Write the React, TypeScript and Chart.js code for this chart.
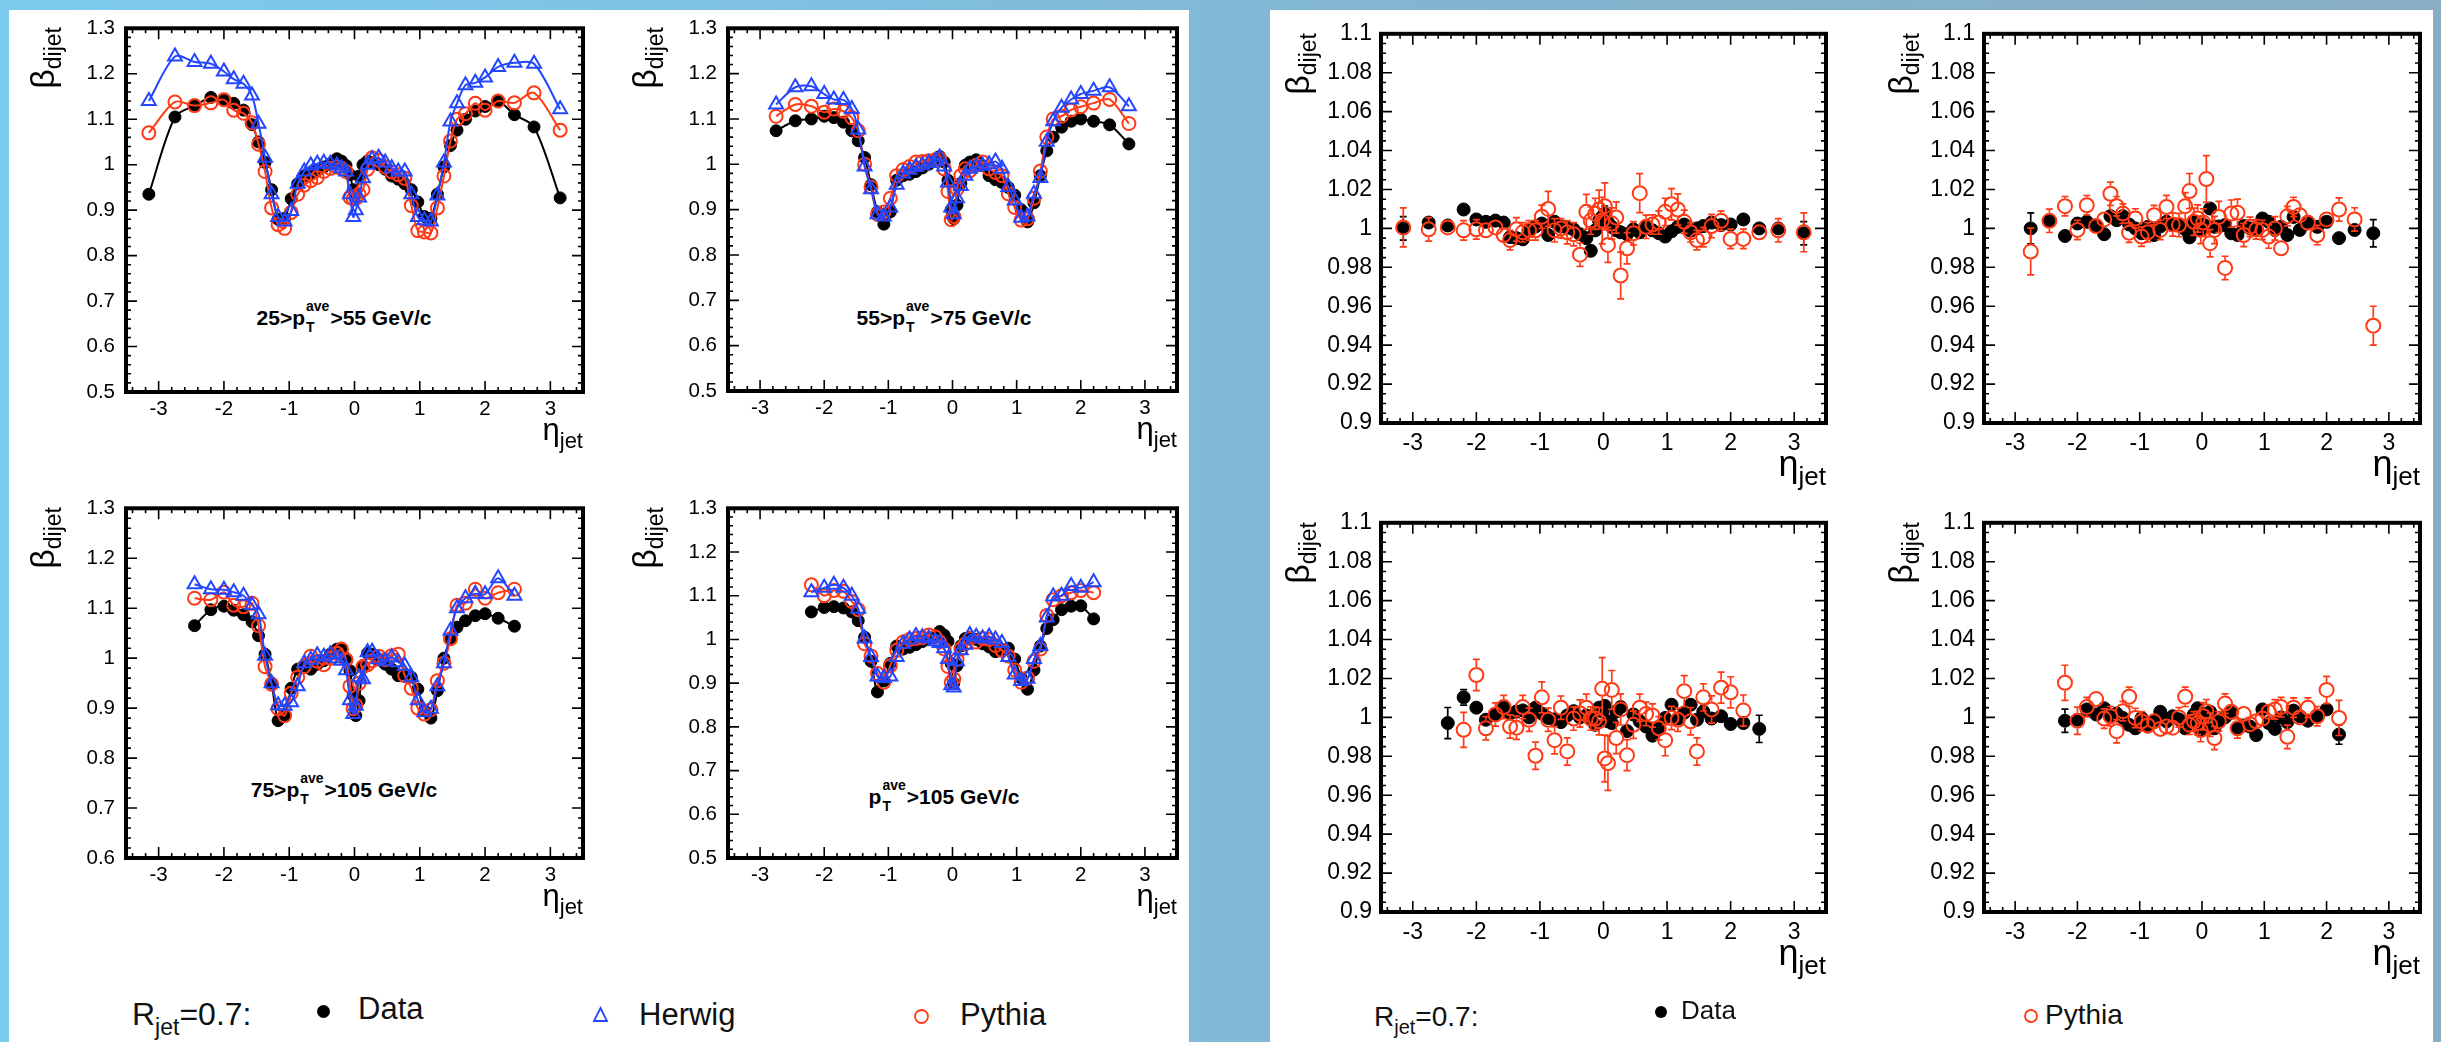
import React, { useEffect, useRef } from "react";
import { Chart, registerables } from "chart.js";

Chart.register(...registerables);

const FONT = '"Liberation Sans", Arial, Helvetica, sans-serif';
const BLUE = "#2446ff";
const RED = "#ff3a14";
const BLACK = "#000000";

// η bin centres for each p_T^ave bin
const ETA_25_55 = [-3.15, -2.75, -2.45, -2.2, -2.0, -1.85, -1.7, -1.57, -1.47, -1.37, -1.27, -1.17, -1.07, -0.97, -0.87, -0.77, -0.67, -0.57, -0.47, -0.37, -0.27, -0.2, -0.13, -0.07, -0.02, 0.02, 0.07, 0.13, 0.2, 0.27, 0.37, 0.47, 0.57, 0.67, 0.77, 0.87, 0.97, 1.07, 1.17, 1.27, 1.37, 1.47, 1.57, 1.7, 1.85, 2.0, 2.2, 2.45, 2.75, 3.15];
const ETA_55_75 = [-2.75, -2.45, -2.2, -2.0, -1.85, -1.7, -1.57, -1.47, -1.37, -1.27, -1.17, -1.07, -0.97, -0.87, -0.77, -0.67, -0.57, -0.47, -0.37, -0.27, -0.2, -0.13, -0.07, -0.02, 0.02, 0.07, 0.13, 0.2, 0.27, 0.37, 0.47, 0.57, 0.67, 0.77, 0.87, 0.97, 1.07, 1.17, 1.27, 1.37, 1.47, 1.57, 1.7, 1.85, 2.0, 2.2, 2.45, 2.75];
const ETA_75_105 = [-2.45, -2.2, -2.0, -1.85, -1.7, -1.57, -1.47, -1.37, -1.27, -1.17, -1.07, -0.97, -0.87, -0.77, -0.67, -0.57, -0.47, -0.37, -0.27, -0.2, -0.13, -0.07, -0.02, 0.02, 0.07, 0.13, 0.2, 0.27, 0.37, 0.47, 0.57, 0.67, 0.77, 0.87, 0.97, 1.07, 1.17, 1.27, 1.37, 1.47, 1.57, 1.7, 1.85, 2.0, 2.2, 2.45];
const ETA_105 = [-2.2, -2.0, -1.85, -1.7, -1.57, -1.47, -1.37, -1.27, -1.17, -1.07, -0.97, -0.87, -0.77, -0.67, -0.57, -0.47, -0.37, -0.27, -0.2, -0.13, -0.07, -0.02, 0.02, 0.07, 0.13, 0.2, 0.27, 0.37, 0.47, 0.57, 0.67, 0.77, 0.87, 0.97, 1.07, 1.17, 1.27, 1.37, 1.47, 1.57, 1.7, 1.85, 2.0, 2.2];

// β_dijet: data and generator-level predictions
const DATA_25_55 = [0.935, 1.105, 1.130, 1.148, 1.143, 1.135, 1.120, 1.088, 1.050, 1.005, 0.945, 0.880, 0.882, 0.925, 0.958, 0.975, 0.982, 0.988, 0.995, 1.002, 1.013, 1.008, 0.998, 0.978, 0.945, 0.935, 0.975, 1.000, 1.008, 1.005, 1.000, 0.990, 0.975, 0.968, 0.958, 0.945, 0.918, 0.886, 0.882, 0.935, 0.995, 1.042, 1.076, 1.100, 1.118, 1.128, 1.140, 1.110, 1.083, 0.927];
const HERWIG_25_55 = [1.140, 1.238, 1.226, 1.222, 1.205, 1.188, 1.178, 1.152, 1.090, 1.015, 0.935, 0.885, 0.875, 0.898, 0.958, 0.985, 0.998, 1.002, 1.004, 1.002, 0.998, 0.992, 0.985, 0.935, 0.885, 0.900, 0.928, 0.970, 1.000, 1.012, 1.015, 1.005, 0.992, 0.985, 0.985, 0.935, 0.885, 0.878, 0.875, 0.932, 1.005, 1.095, 1.135, 1.175, 1.180, 1.192, 1.215, 1.224, 1.222, 1.122];
const PYTHIA_25_55 = [1.070, 1.138, 1.130, 1.136, 1.143, 1.120, 1.113, 1.092, 1.045, 0.985, 0.905, 0.868, 0.860, 0.895, 0.935, 0.955, 0.965, 0.972, 0.985, 0.992, 0.995, 0.992, 0.985, 0.928, 0.925, 0.926, 0.935, 0.945, 0.990, 1.015, 1.010, 0.995, 0.984, 0.978, 0.970, 0.910, 0.855, 0.852, 0.850, 0.905, 0.975, 1.052, 1.100, 1.112, 1.135, 1.120, 1.140, 1.136, 1.158, 1.076];

const DATA_55_75 = [1.074, 1.096, 1.100, 1.106, 1.103, 1.093, 1.074, 1.052, 1.015, 0.955, 0.895, 0.868, 0.895, 0.965, 0.975, 0.978, 0.984, 0.992, 1.000, 1.008, 1.017, 1.005, 0.965, 0.900, 0.880, 0.910, 0.958, 0.998, 1.005, 1.010, 0.997, 0.975, 0.966, 0.960, 0.949, 0.932, 0.900, 0.873, 0.915, 0.975, 1.030, 1.060, 1.082, 1.095, 1.100, 1.095, 1.087, 1.045];
const HERWIG_55_75 = [1.132, 1.170, 1.172, 1.155, 1.143, 1.142, 1.122, 1.077, 0.995, 0.945, 0.890, 0.885, 0.905, 0.955, 0.980, 0.988, 0.994, 0.998, 1.003, 1.008, 1.015, 0.995, 0.960, 0.905, 0.890, 0.925, 0.952, 0.975, 0.990, 0.995, 0.997, 1.000, 1.006, 0.990, 0.950, 0.920, 0.882, 0.885, 0.935, 0.970, 1.050, 1.095, 1.125, 1.143, 1.155, 1.162, 1.170, 1.128];
const PYTHIA_55_75 = [1.106, 1.132, 1.128, 1.115, 1.122, 1.117, 1.103, 1.074, 1.000, 0.950, 0.890, 0.895, 0.925, 0.975, 0.988, 0.995, 1.005, 1.006, 1.008, 1.010, 1.012, 0.990, 0.940, 0.878, 0.885, 0.945, 0.975, 0.990, 0.986, 0.998, 1.005, 0.990, 0.982, 0.975, 0.935, 0.905, 0.877, 0.880, 0.925, 0.985, 1.060, 1.100, 1.106, 1.120, 1.127, 1.135, 1.143, 1.090];

const DATA_75_105 = [1.065, 1.097, 1.104, 1.096, 1.087, 1.073, 1.045, 1.008, 0.950, 0.875, 0.885, 0.940, 0.978, 0.985, 0.978, 0.988, 0.995, 1.008, 1.018, 1.020, 1.000, 0.975, 0.925, 0.885, 0.915, 0.985, 1.010, 1.008, 0.997, 0.988, 0.978, 0.965, 0.968, 0.962, 0.938, 0.895, 0.880, 0.935, 1.000, 1.038, 1.062, 1.075, 1.085, 1.089, 1.080, 1.064];
const HERWIG_75_105 = [1.148, 1.138, 1.137, 1.132, 1.125, 1.106, 1.088, 1.005, 0.950, 0.906, 0.905, 0.912, 0.944, 0.990, 0.997, 1.006, 1.003, 1.008, 1.000, 0.995, 0.976, 0.916, 0.888, 0.905, 0.962, 0.958, 1.012, 1.013, 0.998, 0.994, 1.002, 0.992, 0.985, 0.962, 0.916, 0.892, 0.899, 0.944, 0.990, 1.055, 1.100, 1.120, 1.129, 1.128, 1.160, 1.125];
const PYTHIA_75_105 = [1.120, 1.117, 1.132, 1.106, 1.103, 1.110, 1.065, 0.983, 0.948, 0.899, 0.885, 0.930, 0.962, 0.983, 1.004, 0.994, 0.987, 1.000, 1.010, 1.018, 0.997, 0.944, 0.899, 0.906, 0.950, 0.983, 0.987, 0.995, 1.004, 0.997, 1.005, 1.008, 0.965, 0.940, 0.900, 0.888, 0.897, 0.955, 0.990, 1.039, 1.106, 1.110, 1.138, 1.120, 1.131, 1.138];

const DATA_105 = [1.063, 1.073, 1.075, 1.072, 1.063, 1.043, 1.005, 0.950, 0.880, 0.905, 0.945, 0.985, 0.978, 0.982, 0.988, 0.995, 1.002, 1.008, 1.018, 1.010, 0.996, 0.945, 0.900, 0.940, 0.985, 1.002, 1.005, 1.000, 0.990, 0.983, 0.972, 0.975, 0.980, 0.955, 0.912, 0.886, 0.930, 0.985, 1.025, 1.045, 1.068, 1.076, 1.077, 1.047];
const HERWIG_105 = [1.108, 1.118, 1.125, 1.118, 1.100, 1.070, 1.002, 0.960, 0.915, 0.912, 0.915, 0.960, 0.990, 1.000, 1.008, 1.005, 1.002, 0.996, 0.992, 0.980, 0.955, 0.895, 0.890, 0.950, 0.975, 0.988, 1.010, 1.006, 1.002, 1.006, 1.000, 0.992, 0.960, 0.920, 0.905, 0.910, 0.955, 0.985, 1.050, 1.098, 1.100, 1.122, 1.118, 1.131];
const PYTHIA_105 = [1.125, 1.100, 1.112, 1.110, 1.087, 1.068, 0.990, 0.962, 0.922, 0.902, 0.940, 0.975, 0.994, 1.000, 1.002, 1.004, 1.010, 1.006, 0.994, 0.978, 0.938, 0.902, 0.910, 0.954, 0.978, 0.990, 1.002, 0.994, 1.002, 1.000, 0.986, 0.975, 0.962, 0.930, 0.902, 0.912, 0.950, 0.978, 1.055, 1.091, 1.100, 1.107, 1.112, 1.107];

// β_dijet after correction, with statistical uncertainties
const RATIO_DATA_25_55 = [1.000, 1.003, 1.0015, 1.0097, 1.0046, 1.0034, 1.004, 1.003, 0.9955, 0.995, 0.9944, 0.999, 1.001, 1.0025, 0.9966, 1.0034, 1.001, 1.0003, 0.9995, 0.997, 0.995, 0.9885, 0.999, 1.004, 1.006, 1.0075, 1.003, 1.0008, 0.999, 0.998, 0.997, 0.9995, 0.998, 1.0008, 0.999, 0.9975, 0.9958, 0.9985, 1.0008, 1.002, 0.9988, 1.000, 1.0012, 1.003, 1.0017, 1.002, 1.0046, 1.000, 1.000, 0.9975];
const RATIO_DATA_ERR_25_55 = [0.006, 0.003, 0.003, 0.002, 0.002, 0.002, 0.002, 0.002, 0.002, 0.003, 0.003, 0.003, 0.002, 0.002, 0.003, 0.003, 0.002, 0.002, 0.002, 0.003, 0.003, 0.003, 0.003, 0.003, 0.004, 0.004, 0.003, 0.003, 0.003, 0.003, 0.003, 0.002, 0.002, 0.002, 0.002, 0.003, 0.003, 0.003, 0.002, 0.002, 0.002, 0.002, 0.002, 0.002, 0.002, 0.002, 0.002, 0.003, 0.003, 0.006];
const RATIO_PYTHIA_25_55 = [1.0005, 0.9995, 1.0005, 0.999, 0.9995, 0.999, 1.0005, 0.9966, 0.994, 0.9995, 0.998, 0.999, 0.999, 1.006, 1.010, 0.999, 1.000, 0.998, 0.997, 0.9865, 1.0085, 1.004, 1.0075, 1.0097, 1.004, 1.0114, 0.9915, 1.0025, 1.0056, 0.9758, 0.9898, 0.9975, 1.0181, 1.0008, 1.002, 1.003, 1.0085, 1.0124, 1.0097, 1.0034, 0.998, 0.994, 0.9955, 1.0012, 1.0039, 0.9946, 0.9946, 0.998, 0.999, 0.998];
const RATIO_PYTHIA_ERR_25_55 = [0.010, 0.006, 0.004, 0.005, 0.005, 0.004, 0.004, 0.004, 0.005, 0.006, 0.005, 0.005, 0.005, 0.006, 0.009, 0.006, 0.005, 0.006, 0.006, 0.006, 0.009, 0.007, 0.008, 0.010, 0.012, 0.012, 0.009, 0.008, 0.008, 0.012, 0.008, 0.006, 0.010, 0.006, 0.005, 0.006, 0.007, 0.008, 0.008, 0.006, 0.005, 0.005, 0.005, 0.006, 0.005, 0.005, 0.005, 0.004, 0.006, 0.010];

const RATIO_DATA_55_75 = [1.000, 1.0039, 0.9961, 1.0025, 1.0034, 1.0012, 0.997, 1.0063, 1.0042, 1.0063, 1.002, 1.000, 0.9975, 1.0008, 0.9966, 1.001, 1.0034, 1.002, 1.0017, 0.9995, 0.9954, 1.0034, 1.001, 0.9992, 1.002, 1.0008, 1.0102, 1.0008, 1.001, 1.0017, 0.9975, 0.9966, 1.0012, 1.000, 0.9995, 1.0051, 1.0034, 0.9992, 1.0008, 0.9966, 1.0059, 0.9992, 1.0034, 1.0008, 1.0034, 0.995, 0.9992, 0.9975];
const RATIO_DATA_ERR_55_75 = [0.008, 0.003, 0.002, 0.002, 0.002, 0.002, 0.002, 0.002, 0.002, 0.002, 0.002, 0.002, 0.002, 0.002, 0.002, 0.002, 0.002, 0.002, 0.002, 0.002, 0.003, 0.002, 0.002, 0.003, 0.003, 0.002, 0.003, 0.002, 0.002, 0.002, 0.002, 0.002, 0.002, 0.002, 0.002, 0.003, 0.002, 0.002, 0.002, 0.002, 0.002, 0.002, 0.002, 0.002, 0.002, 0.002, 0.003, 0.007];
const RATIO_PYTHIA_55_75 = [0.9881, 1.0039, 1.0114, 0.9992, 1.0119, 1.0012, 1.0046, 1.0178, 1.0114, 1.0076, 0.9978, 1.0051, 0.9958, 0.998, 1.0068, 0.9992, 1.011, 1.002, 1.0017, 1.0114, 1.0192, 1.0034, 1.0051, 0.9992, 1.003, 1.0254, 0.9924, 0.9992, 1.0059, 0.9797, 1.0076, 1.008, 0.9966, 1.0008, 0.9995, 0.9992, 0.9958, 1.000, 0.9898, 1.0063, 1.011, 1.0068, 1.0029, 0.9966, 1.0046, 1.0097, 1.0046, 0.950];
const RATIO_PYTHIA_ERR_55_75 = [0.012, 0.006, 0.005, 0.005, 0.005, 0.004, 0.004, 0.006, 0.005, 0.005, 0.005, 0.005, 0.005, 0.005, 0.005, 0.005, 0.006, 0.006, 0.006, 0.007, 0.009, 0.007, 0.007, 0.007, 0.007, 0.012, 0.007, 0.007, 0.008, 0.006, 0.007, 0.007, 0.006, 0.005, 0.005, 0.005, 0.006, 0.006, 0.004, 0.005, 0.005, 0.004, 0.004, 0.005, 0.004, 0.006, 0.006, 0.010];

const RATIO_DATA_75_105 = [0.9971, 1.0103, 1.005, 0.9988, 1.0015, 1.005, 1.002, 1.003, 1.0036, 1.000, 1.005, 1.002, 0.9997, 0.999, 0.9976, 1.001, 1.0032, 1.000, 1.001, 0.9997, 0.9962, 1.005, 1.003, 1.0059, 0.998, 0.9971, 1.003, 1.0053, 0.993, 1.0015, 0.998, 0.9953, 0.9906, 0.9945, 0.9997, 1.0065, 0.9994, 1.0024, 1.0065, 0.9988, 1.003, 0.9994, 1.0006, 0.9966, 0.9971, 0.9941];
const RATIO_DATA_ERR_75_105 = [0.008, 0.004, 0.003, 0.002, 0.002, 0.002, 0.002, 0.002, 0.002, 0.002, 0.002, 0.002, 0.002, 0.002, 0.002, 0.002, 0.002, 0.002, 0.002, 0.002, 0.002, 0.003, 0.003, 0.003, 0.003, 0.002, 0.002, 0.002, 0.002, 0.002, 0.002, 0.002, 0.002, 0.002, 0.002, 0.002, 0.002, 0.002, 0.002, 0.002, 0.002, 0.002, 0.002, 0.002, 0.003, 0.007];
const RATIO_PYTHIA_75_105 = [null, 0.9936, 1.0218, 0.9944, 1.0015, 1.0053, 0.9953, 0.9947, 1.0053, 0.9988, 0.9803, 1.0103, 0.9988, 0.9883, 1.005, 0.9825, 0.9994, 1.002, 1.005, 0.9994, 0.9994, 0.998, 1.0147, 0.9789, 0.9765, 1.0141, 0.9894, 1.0041, 0.9806, 0.9962, 1.005, 1.0018, 1.001, 0.9944, 0.9883, 0.9997, 0.9988, 1.0135, 0.998, 0.9825, 1.0103, 1.0041, 1.0153, 1.0129, 1.0035, null];
const RATIO_PYTHIA_ERR_75_105 = [null, 0.009, 0.008, 0.006, 0.006, 0.006, 0.006, 0.006, 0.006, 0.006, 0.007, 0.008, 0.006, 0.007, 0.006, 0.007, 0.006, 0.007, 0.007, 0.006, 0.006, 0.007, 0.016, 0.012, 0.014, 0.010, 0.008, 0.008, 0.008, 0.007, 0.007, 0.006, 0.006, 0.006, 0.008, 0.006, 0.006, 0.008, 0.007, 0.007, 0.007, 0.007, 0.008, 0.008, 0.008, null];

const RATIO_DATA_105 = [0.9983, 0.9988, 1.0041, 1.0015, 1.0047, 1.0006, 1.002, 0.9997, 0.9962, 0.9944, 0.9997, 0.9953, 0.9983, 1.0029, 0.998, 1.0006, 0.999, 0.9944, 0.9971, 1.0015, 1.0047, 0.9935, 0.997, 1.0006, 1.0029, 0.9944, 0.998, 1.000, 1.0024, 0.9941, 0.9959, 0.9953, 0.9909, 1.0041, 0.9971, 0.9941, 1.000, 0.9976, 1.0035, 1.0006, 0.9983, 1.0006, 1.0041, 0.9912];
const RATIO_DATA_ERR_105 = [0.006, 0.003, 0.002, 0.002, 0.002, 0.002, 0.002, 0.002, 0.002, 0.002, 0.002, 0.002, 0.002, 0.002, 0.002, 0.002, 0.002, 0.002, 0.002, 0.002, 0.003, 0.003, 0.003, 0.002, 0.002, 0.002, 0.002, 0.002, 0.002, 0.002, 0.002, 0.002, 0.002, 0.002, 0.002, 0.002, 0.002, 0.002, 0.002, 0.002, 0.002, 0.002, 0.003, 0.005];
const RATIO_PYTHIA_105 = [1.0178, 0.9983, 1.0053, 1.0094, 0.9994, 1.0006, 0.9929, 1.0032, 1.0106, 0.9997, 0.998, 0.9959, 0.998, 0.9941, 0.9953, 0.9947, 1.000, 1.0106, 0.9962, 0.998, 0.9971, 0.9935, 1.0006, 1.0032, 0.9962, 0.9894, 0.998, 1.0071, 1.0029, 0.9944, 1.0018, 0.9965, 0.998, 0.9994, 1.0029, 1.0041, 1.0053, 0.990, 1.005, 1.000, 1.005, 1.0006, 1.0141, 0.9997];
const RATIO_PYTHIA_ERR_105 = [0.009, 0.007, 0.005, 0.004, 0.005, 0.005, 0.006, 0.005, 0.005, 0.005, 0.005, 0.004, 0.004, 0.004, 0.004, 0.004, 0.005, 0.005, 0.005, 0.005, 0.006, 0.006, 0.007, 0.006, 0.006, 0.006, 0.005, 0.005, 0.004, 0.005, 0.004, 0.004, 0.004, 0.004, 0.004, 0.005, 0.005, 0.006, 0.005, 0.004, 0.005, 0.005, 0.007, 0.009];

// axis tick values
const X_TICKS = [-3, -2, -1, 0, 1, 2, 3];
const Y_TICKS_WIDE = [0.5, 0.6, 0.7, 0.8, 0.9, 1.0, 1.1, 1.2, 1.3];
const Y_TICKS_MID = [0.6, 0.7, 0.8, 0.9, 1.0, 1.1, 1.2, 1.3];
const Y_TICKS_RATIO = [0.9, 0.92, 0.94, 0.96, 0.98, 1.0, 1.02, 1.04, 1.06, 1.08, 1.1];

type Kind = "data" | "herwig" | "pythia";
interface SeriesDef {
  label: string;
  kind: Kind;
  values: (number | null)[];
  errors?: (number | null)[];
}
interface PanelDef {
  frame: [number, number, number, number];
  eta: number[];
  series: SeriesDef[];
  yTicks: number[];
  ratio: boolean;
  note?: { lo: string | null; hi: string; x: number; y: number };
}

const PAD_L = 110;
const PAD_T = 20;
const PAD_R = 24;
const PAD_B = 54;

// thick frame with inward major/minor ticks on all four sides
const framePlugin = {
  id: "physFrame",
  afterDatasetsDraw(chart: any, _args: any, o: any) {
    const { ctx, chartArea: a, scales } = chart;
    const sx = scales.x;
    const sy = scales.y;
    ctx.save();
    ctx.strokeStyle = "#000";
    ctx.lineWidth = 1.6;
    ctx.beginPath();
    const xStep = o.xMajor / o.xDiv;
    for (let k = Math.ceil(sx.min / xStep - 1e-9); k <= Math.floor(sx.max / xStep + 1e-9); k++) {
      const px = sx.getPixelForValue(k * xStep);
      const len = k % o.xDiv === 0 ? o.majorLen : o.minorLen;
      ctx.moveTo(px, a.bottom);
      ctx.lineTo(px, a.bottom - len);
      ctx.moveTo(px, a.top);
      ctx.lineTo(px, a.top + len);
    }
    const yStep = o.yMajor / o.yDiv;
    const k0 = Math.round(sy.min / yStep);
    const k1 = Math.round(sy.max / yStep);
    for (let k = k0; k <= k1; k++) {
      const py = sy.getPixelForValue(k * yStep);
      const len = (k - k0) % o.yDiv === 0 ? o.majorLen : o.minorLen;
      ctx.moveTo(a.left, py);
      ctx.lineTo(a.left + len, py);
      ctx.moveTo(a.right, py);
      ctx.lineTo(a.right - len, py);
    }
    ctx.stroke();
    ctx.lineWidth = 4;
    ctx.strokeRect(a.left, a.top, a.right - a.left, a.bottom - a.top);
    ctx.restore();
  },
};

// vertical error bars with end caps, kept outside the marker
const errorBarPlugin = {
  id: "errorBars",
  afterDatasetDraw(chart: any, args: any) {
    const ds = chart.data.datasets[args.index];
    const errs = ds.errors as (number | null)[] | undefined;
    if (!errs) return;
    const sy = chart.scales.y;
    const ctx = chart.ctx;
    const r = ds.pointRadius + (ds.pointBorderWidth || 0) / 2;
    ctx.save();
    ctx.strokeStyle = ds.borderColor;
    ctx.lineWidth = 1.7;
    ctx.beginPath();
    args.meta.data.forEach((el: any, i: number) => {
      const raw = ds.data[i];
      const e = errs[i];
      if (raw.y == null || e == null || el.skip) return;
      const x = el.x;
      const yc = el.y;
      const yt = sy.getPixelForValue(raw.y + e);
      const yb = sy.getPixelForValue(raw.y - e);
      if (yc - r > yt) {
        ctx.moveTo(x, yt);
        ctx.lineTo(x, yc - r);
        ctx.moveTo(x - 3.5, yt);
        ctx.lineTo(x + 3.5, yt);
      }
      if (yb > yc + r) {
        ctx.moveTo(x, yc + r);
        ctx.lineTo(x, yb);
        ctx.moveTo(x - 3.5, yb);
        ctx.lineTo(x + 3.5, yb);
      }
    });
    ctx.stroke();
    ctx.restore();
  },
};

function datasetFor(s: SeriesDef, eta: number[], ratio: boolean) {
  const color = s.kind === "data" ? BLACK : s.kind === "herwig" ? BLUE : RED;
  const filled = s.kind === "data";
  let radius = 6;
  if (s.kind === "herwig") radius = 8;
  else if (filled) radius = ratio ? 6.5 : 6;
  else radius = ratio ? 7 : 6.5;
  return {
    label: s.label,
    data: eta.map((x, i) => ({ x, y: s.values[i] })),
    errors: s.errors,
    showLine: !ratio,
    borderColor: color,
    borderWidth: 2,
    tension: 0.3,
    spanGaps: true,
    pointStyle: s.kind === "herwig" ? "triangle" : "circle",
    pointRadius: radius,
    pointBorderWidth: filled ? 1 : 2,
    pointBorderColor: color,
    pointBackgroundColor: filled ? color : "rgba(0,0,0,0)",
    order: s.kind === "herwig" ? 0 : s.kind === "pythia" ? 1 : 2,
  };
}

function Panel({ def }: { def: PanelDef }) {
  const ref = useRef<HTMLCanvasElement>(null);
  const [fx, fy, fw, fh] = def.frame;
  const W = fw + PAD_L + PAD_R;
  const H = fh + PAD_T + PAD_B;
  useEffect(() => {
    const tickSize = def.ratio ? 23 : 20.5;
    const yMin = def.yTicks[0];
    const yMax = def.yTicks[def.yTicks.length - 1];
    const yMajor = def.yTicks[1] - def.yTicks[0];
    const font = { family: FONT, size: tickSize };
    const chart = new Chart(ref.current as HTMLCanvasElement, {
      type: "line",
      data: { datasets: def.series.map((s) => datasetFor(s, def.eta, def.ratio)) as any },
      options: {
        animation: false,
        responsive: false,
        maintainAspectRatio: false,
        events: [],
        layout: { padding: { left: 0, top: PAD_T, right: PAD_R, bottom: 0 } },
        plugins: {
          legend: { display: false },
          tooltip: { enabled: false },
          physFrame: { xMajor: 1, xDiv: 5, yMajor, yDiv: def.ratio ? 4 : 5, majorLen: 11, minorLen: 5 },
        } as any,
        scales: {
          x: {
            type: "linear",
            min: -3.5,
            max: 3.5,
            afterBuildTicks: (sc: any) => {
              sc.ticks = X_TICKS.map((v) => ({ value: v }));
            },
            afterFit: (sc: any) => {
              sc.height = PAD_B;
            },
            grid: { display: false, drawTicks: false },
            border: { display: false },
            ticks: {
              autoSkip: false,
              maxRotation: 0,
              padding: def.ratio ? 7 : 5,
              color: "#000",
              font,
              callback: (v: any) => String(v),
            },
          },
          y: {
            type: "linear",
            min: yMin,
            max: yMax,
            afterBuildTicks: (sc: any) => {
              sc.ticks = def.yTicks.map((v) => ({ value: v }));
            },
            afterFit: (sc: any) => {
              sc.width = PAD_L;
            },
            grid: { display: false, drawTicks: false },
            border: { display: false },
            ticks: {
              autoSkip: false,
              padding: def.ratio ? 9 : 11,
              color: "#000",
              font,
              callback: (v: any) => String(Number(Number(v).toFixed(3))),
            },
          },
        } as any,
      },
      plugins: [framePlugin, errorBarPlugin],
    });
    return () => chart.destroy();
  }, [def]);
  return (
    <canvas
      ref={ref}
      width={W}
      height={H}
      style={{ position: "absolute", left: fx - PAD_L, top: fy - PAD_T, width: W, height: H }}
    />
  );
}

function BetaLabel({ frame }: { frame: [number, number, number, number] }) {
  const [fx, fy] = frame;
  const len = 120;
  return (
    <div
      style={{
        position: "absolute",
        left: fx - 104,
        top: fy + 2 + len,
        width: len,
        height: 40,
        lineHeight: "40px",
        textAlign: "right",
        whiteSpace: "nowrap",
        transform: "rotate(-90deg)",
        transformOrigin: "0 0",
        fontFamily: FONT,
        color: "#000",
      }}
    >
      <span style={{ fontSize: 34 }}>β</span>
      <span style={{ fontSize: 23, position: "relative", top: 7 }}>dijet</span>
    </div>
  );
}

function EtaLabel({ frame, ratio }: { frame: [number, number, number, number]; ratio: boolean }) {
  const [fx, fy, fw, fh] = frame;
  const big = ratio ? 36 : 31;
  return (
    <div
      style={{
        position: "absolute",
        left: fx + fw - 120,
        top: fy + fh + (ratio ? 23 : 22),
        width: 120,
        textAlign: "right",
        whiteSpace: "nowrap",
        lineHeight: 1,
        fontFamily: FONT,
        color: "#000",
      }}
    >
      <span style={{ fontSize: big }}>η</span>
      <span style={{ fontSize: Math.round(big * 0.72), position: "relative", top: Math.round(big * 0.25) }}>jet</span>
    </div>
  );
}

function PtNote({ lo, hi, x, y }: { lo: string | null; hi: string; x: number; y: number }) {
  return (
    <div
      style={{
        position: "absolute",
        left: x,
        top: y,
        transform: "translate(-50%, -50%)",
        background: "#fff",
        padding: "10px 14px",
        fontFamily: FONT,
        fontWeight: "bold",
        fontSize: 21,
        lineHeight: "24px",
        whiteSpace: "nowrap",
        display: "flex",
        alignItems: "center",
        color: "#000",
      }}
    >
      <span>{lo ? `${lo}>p` : "p"}</span>
      <span style={{ display: "inline-flex", flexDirection: "column", fontSize: 14, lineHeight: "13px", margin: "0 1px" }}>
        <span style={{ position: "relative", top: -5 }}>ave</span>
        <span style={{ position: "relative", top: 3 }}>T</span>
      </span>
      <span>{`>${hi} GeV/c`}</span>
    </div>
  );
}

const LEFT_PANELS: PanelDef[] = [
  {
    frame: [126, 25, 457, 367],
    eta: ETA_25_55,
    yTicks: Y_TICKS_WIDE,
    ratio: false,
    series: [
      { label: "Data", kind: "data", values: DATA_25_55 },
      { label: "Herwig", kind: "herwig", values: HERWIG_25_55 },
      { label: "Pythia", kind: "pythia", values: PYTHIA_25_55 },
    ],
    note: { lo: "25", hi: "55", x: 344, y: 318 },
  },
  {
    frame: [728, 25, 449, 366],
    eta: ETA_55_75,
    yTicks: Y_TICKS_WIDE,
    ratio: false,
    series: [
      { label: "Data", kind: "data", values: DATA_55_75 },
      { label: "Herwig", kind: "herwig", values: HERWIG_55_75 },
      { label: "Pythia", kind: "pythia", values: PYTHIA_55_75 },
    ],
    note: { lo: "55", hi: "75", x: 944, y: 318 },
  },
  {
    frame: [126, 505, 457, 353],
    eta: ETA_75_105,
    yTicks: Y_TICKS_MID,
    ratio: false,
    series: [
      { label: "Data", kind: "data", values: DATA_75_105 },
      { label: "Herwig", kind: "herwig", values: HERWIG_75_105 },
      { label: "Pythia", kind: "pythia", values: PYTHIA_75_105 },
    ],
    note: { lo: "75", hi: "105", x: 344, y: 790 },
  },
  {
    frame: [728, 505, 449, 353],
    eta: ETA_105,
    yTicks: Y_TICKS_WIDE,
    ratio: false,
    series: [
      { label: "Data", kind: "data", values: DATA_105 },
      { label: "Herwig", kind: "herwig", values: HERWIG_105 },
      { label: "Pythia", kind: "pythia", values: PYTHIA_105 },
    ],
    note: { lo: null, hi: "105", x: 944, y: 797 },
  },
];

const RIGHT_PANELS: PanelDef[] = [
  {
    frame: [1381, 31, 445, 392],
    eta: ETA_25_55,
    yTicks: Y_TICKS_RATIO,
    ratio: true,
    series: [
      { label: "Data", kind: "data", values: RATIO_DATA_25_55, errors: RATIO_DATA_ERR_25_55 },
      { label: "Pythia", kind: "pythia", values: RATIO_PYTHIA_25_55, errors: RATIO_PYTHIA_ERR_25_55 },
    ],
  },
  {
    frame: [1984, 31, 436, 392],
    eta: ETA_55_75,
    yTicks: Y_TICKS_RATIO,
    ratio: true,
    series: [
      { label: "Data", kind: "data", values: RATIO_DATA_55_75, errors: RATIO_DATA_ERR_55_75 },
      { label: "Pythia", kind: "pythia", values: RATIO_PYTHIA_55_75, errors: RATIO_PYTHIA_ERR_55_75 },
    ],
  },
  {
    frame: [1381, 520, 445, 392],
    eta: ETA_75_105,
    yTicks: Y_TICKS_RATIO,
    ratio: true,
    series: [
      { label: "Data", kind: "data", values: RATIO_DATA_75_105, errors: RATIO_DATA_ERR_75_105 },
      { label: "Pythia", kind: "pythia", values: RATIO_PYTHIA_75_105, errors: RATIO_PYTHIA_ERR_75_105 },
    ],
  },
  {
    frame: [1984, 520, 436, 392],
    eta: ETA_105,
    yTicks: Y_TICKS_RATIO,
    ratio: true,
    series: [
      { label: "Data", kind: "data", values: RATIO_DATA_105, errors: RATIO_DATA_ERR_105 },
      { label: "Pythia", kind: "pythia", values: RATIO_PYTHIA_105, errors: RATIO_PYTHIA_ERR_105 },
    ],
  },
];

function Marker({ kind, x, y, size }: { kind: Kind; x: number; y: number; size: number }) {
  const s = size;
  return (
    <svg
      width={s + 4}
      height={s + 4}
      style={{ position: "absolute", left: x - s / 2 - 2, top: y - s / 2 - 2 }}
      viewBox={`0 0 ${s + 4} ${s + 4}`}
    >
      {kind === "data" && <circle cx={s / 2 + 2} cy={s / 2 + 2} r={s / 2} fill={BLACK} />}
      {kind === "pythia" && <circle cx={s / 2 + 2} cy={s / 2 + 2} r={s / 2 - 1} fill="none" stroke={RED} strokeWidth={1.8} />}
      {kind === "herwig" && (
        <polygon
          points={`${s / 2 + 2},3 ${s + 1},${s + 1} 3,${s + 1}`}
          fill="none"
          stroke={BLUE}
          strokeWidth={1.8}
        />
      )}
    </svg>
  );
}

function LegendText({ x, baseline, size, children }: { x: number; baseline: number; size: number; children: React.ReactNode }) {
  return (
    <div
      style={{
        position: "absolute",
        left: x,
        top: baseline - Math.round(size * 0.85),
        fontFamily: FONT,
        fontSize: size,
        lineHeight: 1,
        whiteSpace: "nowrap",
        color: "#111",
      }}
    >
      {children}
    </div>
  );
}

function RLabel({ size }: { size: number }) {
  return (
    <span>
      R<span style={{ fontSize: Math.round(size * 0.72), position: "relative", top: Math.round(size * 0.3) }}>jet</span>=0.7:
    </span>
  );
}

export default function App() {
  return (
    <div
      style={{
        position: "fixed",
        left: 0,
        top: 0,
        width: 2441,
        height: 1042,
        overflow: "hidden",
        background: "linear-gradient(to right, #7ccbef 0%, #7fc0e0 35%, #82b6d2 55%, #88aec3 100%)",
      }}
    >
      <div style={{ position: "absolute", left: 9, top: 10, width: 1180, height: 1032, background: "#fff" }} />
      <div style={{ position: "absolute", left: 1270, top: 10, width: 1163, height: 1032, background: "#fff" }} />

      {[...LEFT_PANELS, ...RIGHT_PANELS].map((p, i) => (
        <React.Fragment key={i}>
          <Panel def={p} />
          <BetaLabel frame={p.frame} />
          <EtaLabel frame={p.frame} ratio={p.ratio} />
          {p.note && <PtNote lo={p.note.lo} hi={p.note.hi} x={p.note.x} y={p.note.y} />}
        </React.Fragment>
      ))}

      <LegendText x={132} baseline={1025} size={32}>
        <RLabel size={32} />
      </LegendText>
      <Marker kind="data" x={323} y={1011} size={13} />
      <LegendText x={358} baseline={1019} size={31}>Data</LegendText>
      <Marker kind="herwig" x={600} y={1014} size={15} />
      <LegendText x={639} baseline={1025} size={31}>Herwig</LegendText>
      <Marker kind="pythia" x={921} y={1016} size={15} />
      <LegendText x={960} baseline={1025} size={31}>Pythia</LegendText>

      <LegendText x={1374} baseline={1027} size={28}>
        <RLabel size={28} />
      </LegendText>
      <Marker kind="data" x={1661} y={1012} size={12} />
      <LegendText x={1681} baseline={1019} size={26}>Data</LegendText>
      <Marker kind="pythia" x={2031} y={1016} size={14} />
      <LegendText x={2045} baseline={1025} size={28}>Pythia</LegendText>
    </div>
  );
}
